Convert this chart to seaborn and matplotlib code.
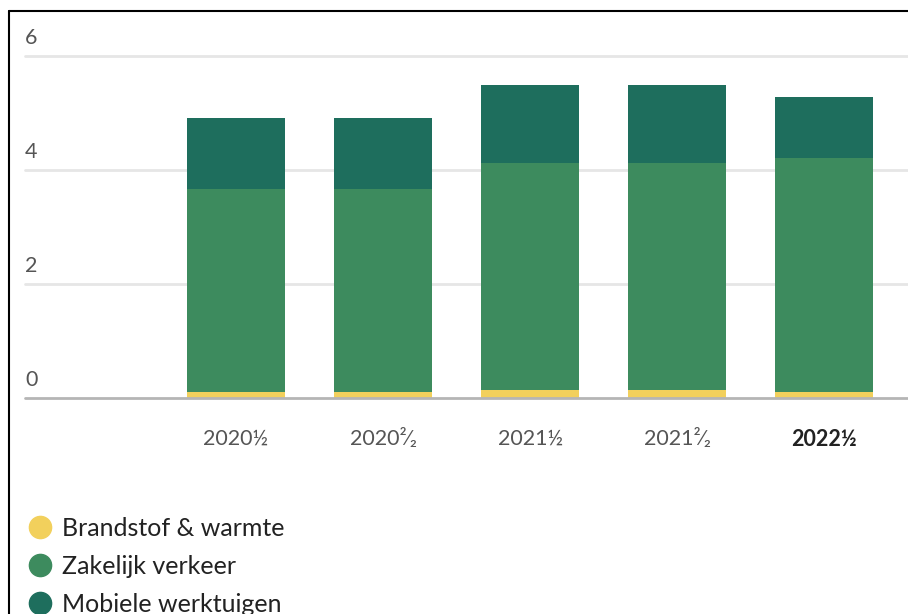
import numpy as np
import pandas as pd
import matplotlib.pyplot as plt
import matplotlib.transforms as mtransforms
from matplotlib.lines import Line2D
import seaborn as sns

# Data
periods = ["2020½", "2020²⁄₂", "2021½", "2021²⁄₂", "2022½"]
brandstof = [0.10, 0.10, 0.14, 0.14, 0.10]
zakelijk = [3.57, 3.57, 3.98, 3.98, 4.11]
mobiel = [1.24, 1.24, 1.37, 1.37, 1.07]
series_names = ["Brandstof & warmte", "Zakelijk verkeer", "Mobiele werktuigen"]
colors = ["#F2D05C", "#3D8B5E", "#1E6E5D"]
y_ticks = [0, 2, 4, 6]

sns.set_style("white")
plt.rcParams["font.family"] = ["Lato", "DejaVu Sans"]

df = pd.DataFrame({"periode": periods, "b": brandstof, "z": zakelijk, "m": mobiel})
df["top1"] = df["b"]
df["top2"] = df["b"] + df["z"]
df["top3"] = df["b"] + df["z"] + df["m"]

fig = plt.figure(figsize=(9.08, 6.14), dpi=100)
W, H = 908, 614
ax = fig.add_axes([25 / W, (H - 398) / H, (W - 25) / W, 342 / H])

# stacked bars: draw tallest first, overlay smaller cumulative totals
for col, c in zip(["top3", "top2", "top1"], colors[::-1]):
    sns.barplot(data=df, x="periode", y=col, color=c, width=0.67,
                saturation=1, linewidth=0, ax=ax, zorder=3)

ax.set_ylim(0, 6)
ax.set_xlim(-1.435, 4.57)
ax.set_xlabel("")
ax.set_ylabel("")
for s in ax.spines.values():
    s.set_visible(False)

# gridlines
for t in y_ticks[1:]:
    ax.axhline(t, color="#E6E6E6", lw=2, zorder=1, clip_on=False)
ax.axhline(0, color="#B5B5B5", lw=2, zorder=4, clip_on=False)

# y labels above the gridlines
ax.set_yticks([])
off = mtransforms.offset_copy(ax.get_yaxis_transform(), fig=fig, x=0, y=8, units="dots")
for t in y_ticks:
    ax.text(0.0, t, str(t), transform=off, ha="left", va="bottom",
            fontsize=15.5, color="#555555")

ax.tick_params(axis="x", length=0, pad=22, labelsize=15.5, labelcolor="#555555")
labels = ax.get_xticklabels()
labels[-1].set_fontweight("bold")
labels[-1].set_color("#222222")

# legend
handles = [Line2D([], [], marker="o", ls="", markersize=16, color=c) for c in colors]
fig.legend(handles, series_names, loc="upper left", bbox_to_anchor=(27 / W, 1 - 517 / H),
           frameon=False, fontsize=18, labelspacing=0.6, handletextpad=0.35,
           handlelength=1.05, borderaxespad=0, borderpad=0, labelcolor="#222222")

# frame lines at top and left
fig.add_artist(Line2D([9 / W, 1], [1 - 11 / H, 1 - 11 / H], color="black", lw=1.5))
fig.add_artist(Line2D([9 / W, 9 / W], [0, 1 - 11 / H], color="black", lw=1.5))

fig.savefig("out.png", dpi=100)
